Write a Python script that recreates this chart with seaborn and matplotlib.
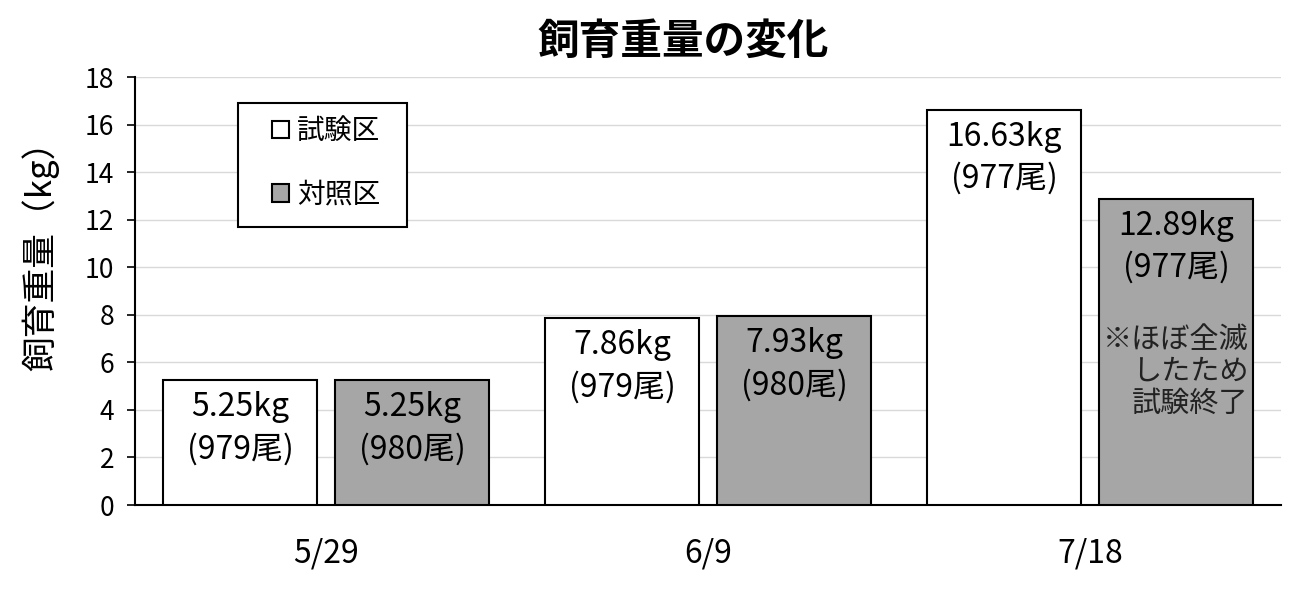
import pandas as pd
import seaborn as sns
import matplotlib.pyplot as plt
from matplotlib.patches import Rectangle

dates = ["5/29", "6/9", "7/18"]
groups = ["試験区", "対照区"]
test_kg = [5.25, 7.86, 16.63]
test_n = [979, 979, 977]
ctrl_kg = [5.25, 7.93, 12.89]
ctrl_n = [980, 980, 977]
note = "※ほぼ全滅\nしたため\n試験終了"

df = pd.DataFrame({
    "date": dates * 2,
    "group": [groups[0]] * 3 + [groups[1]] * 3,
    "kg": test_kg + ctrl_kg,
    "n": test_n + ctrl_n,
})

sns.set_style("white")
plt.rcParams["font.family"] = ["Noto Sans CJK JP", "DejaVu Sans"]
plt.rcParams["text.color"] = "black"
plt.rcParams["xtick.color"] = "black"
plt.rcParams["ytick.color"] = "black"

fig = plt.figure(figsize=(13.03, 5.94), dpi=100)
ax = fig.add_axes([135 / 1303, 1 - 505 / 594, 1146 / 1303, 428 / 594])

sns.barplot(data=df, x="date", y="kg", hue="group", ax=ax,
            palette={"試験区": "white", "対照区": "#a6a6a6"},
            edgecolor="black", linewidth=1.5, width=0.9, gap=0.1,
            errorbar=None, zorder=3)

# value labels inside the bars
for cont, kgs, ns in zip(ax.containers, [test_kg, ctrl_kg], [test_n, ctrl_n]):
    for bar, w, n in zip(cont, kgs, ns):
        ax.annotate(f"{w:.2f}kg\n({n}尾)",
                    (bar.get_x() + bar.get_width() / 2, bar.get_height()),
                    xytext=(0, -11), textcoords="offset pixels",
                    ha="center", va="top", fontsize=23, linespacing=1.38,
                    zorder=4)

last = ax.containers[1][2]
ax.annotate(note, (last.get_x() + last.get_width(), last.get_height()),
            xytext=(-5, -126), textcoords="offset pixels",
            ha="right", va="top", multialignment="right",
            fontsize=21, linespacing=1.1, color="#222222", zorder=4)

ax.set_ylim(0, 18)
ax.set_yticks(range(0, 19, 2))
ax.set_xlim(-0.5, 2.5)
ax.yaxis.grid(True, color="#d9d9d9", linewidth=1, zorder=0)
ax.set_axisbelow(True)
for s in ["top", "right"]:
    ax.spines[s].set_visible(False)
for s in ["left", "bottom"]:
    ax.spines[s].set_color("black")
    ax.spines[s].set_linewidth(1.5)
ax.tick_params(axis="y", which="both", left=True, length=6, width=1.2,
               labelsize=19, pad=9, color="black")
ax.tick_params(axis="x", bottom=False, labelsize=23, pad=20)
ax.set_xlabel("")
ax.set_ylabel("")

# legend box drawn separately, entries centred in it
box = Rectangle((103 / 1146, 278 / 428), 169 / 1146, 124 / 428,
                transform=ax.transAxes, facecolor="white", edgecolor="black",
                linewidth=1.5, zorder=5)
ax.add_patch(box)
leg = ax.legend(loc="center", bbox_to_anchor=(191 / 1146, 342 / 428),
                fontsize=20, frameon=False, borderaxespad=0,
                handlelength=0.6, handleheight=0.6, handletextpad=0.3,
                labelspacing=1.2, borderpad=0)
leg.set_zorder(6)

fig.text(683 / 1303, 1 - 42 / 594, "飼育重量の変化", ha="center", va="center",
         fontsize=30, fontweight="bold")
fig.text(40 / 1303, 1 - 247 / 594, "飼育重量（kg）", ha="center", va="center",
         rotation=90, fontsize=25)

fig.savefig("out.png", dpi=100)
